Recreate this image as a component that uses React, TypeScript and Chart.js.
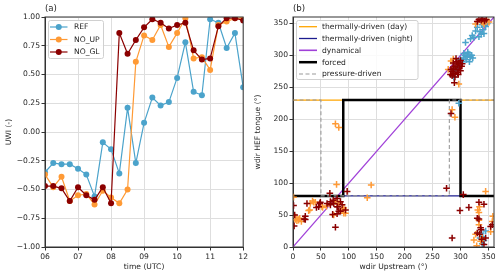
import React, { useEffect, useRef } from "react";
import { Chart, registerables } from "chart.js";

Chart.register(...registerables);

// ---------- Panel (a) data ----------
const TIMES = [6, 6.25, 6.5, 6.75, 7, 7.25, 7.5, 7.75, 8, 8.25, 8.5, 8.75, 9, 9.25, 9.5, 9.75, 10, 10.25, 10.5, 10.75, 11, 11.25, 11.5, 11.75, 12];
const TIME_TICKS = [6, 7, 8, 9, 10, 11, 12];
const TIME_TICK_LABELS = ["06", "07", "08", "09", "10", "11", "12"];
const UWI_TICKS = [-1, -0.75, -0.5, -0.25, 0, 0.25, 0.5, 0.75, 1];

const UWI_REF = [-0.35, -0.27, -0.28, -0.28, -0.32, -0.37, -0.56, -0.09, -0.15, -0.36, 0.21, -0.27, 0.08, 0.3, 0.23, 0.26, 0.47, 0.78, 0.35, 0.32, 0.98, 0.95, 0.73, 0.86, 0.39];
const UWI_NO_UP = [-0.37, -0.48, -0.39, -0.6, -0.55, -0.54, -0.63, -0.51, -0.57, -0.62, -0.5, 0.61, 0.84, 0.8, 0.93, 0.74, 0.86, 0.99, 0.64, 0.65, 0.54, 0.93, 0.96, 0.99, 0.99];
const UWI_NO_GL = [-0.47, -0.47, -0.49, -0.6, -0.48, -0.55, -0.59, -0.48, -0.62, 0.86, 0.68, 0.8, 0.91, 0.98, 0.95, 0.9, 0.93, 0.95, 0.71, 0.63, 0.64, 0.92, 0.99, 0.99, 0.97];

// ---------- Panel (b) data ----------
const WDIR_TICKS = [0, 50, 100, 150, 200, 250, 300, 350];

// [wdir upstream, wdir HEF tongue]
const SCAT_REF: [number, number][] = [
  [288, 266], [297, 225], [309, 320], [305, 296], [308, 300], [312, 298], [315, 302], [318, 297],
  [320, 300], [310, 293], [313, 305], [322, 296], [316, 290], [306, 303], [303, 290], [300, 288],
  [298, 284], [296, 280], [292, 276], [290, 272], [321, 331], [324, 328], [330, 344], [335, 337],
  [333, 329], [337, 333], [342, 334], [340, 340], [327, 338], [345, 345], [348, 350], [338, 348],
  [318, 326], [300, 294], [337, 22], [342, 10], [340, 16], [345, 25], [339, 5], [335, 14],
];
const SCAT_NO_UP: [number, number][] = [
  [327, 349], [339, 352], [342, 349], [351, 352], [347, 355], [283, 291], [287, 294], [278, 278],
  [297, 255], [285, 215], [290, 203], [76, 193], [82, 187], [78, 98], [140, 97], [133, 77],
  [1, 78], [31, 68], [40, 70], [35, 72], [52, 63], [76, 71], [82, 68], [91, 53], [91, 61],
  [28, 57], [4, 43], [5, 47], [7, 41], [12, 45], [15, 40], [37, 70], [30, 58], [53, 62],
  [73, 50], [88, 58], [94, 53], [10, 42], [60, 64], [345, 87], [334, 63], [333, 54], [333, 42],
  [333, 35], [327, 20], [339, 14], [336, 9], [354, 24], [357, 40], [358, 48], [324, 11],
  [331, 58], [329, 2],
];
const SCAT_NO_GL: [number, number][] = [
  [333, 356], [337, 355], [340, 357], [343, 354], [330, 353], [346, 356], [282, 270], [285, 275],
  [287, 280], [290, 283], [292, 278], [295, 285], [288, 272], [293, 290], [297, 288], [300, 292],
  [298, 280], [302, 283], [285, 268], [290, 266], [295, 273], [300, 276], [283, 278], [287, 288],
  [292, 295], [296, 270], [303, 287], [289, 257], [283, 209], [1, 65], [2, 33], [3, 50], [22, 48],
  [22, 43], [25, 68], [42, 62], [46, 63], [48, 68], [49, 70], [66, 84], [61, 68], [67, 66],
  [73, 68], [79, 63], [67, 71], [85, 71], [79, 76], [76, 31], [82, 56], [80, 63], [71, 51],
  [79, 52], [85, 56], [94, 58], [97, 87], [20, 44], [72, 73], [88, 66], [275, 92], [305, 82],
  [299, 57], [315, 62], [333, 70], [342, 67], [330, 45], [333, 44], [337, 27], [330, 22],
  [334, 20], [342, 4], [354, 32], [357, 35], [285, 14], [338, 12], [345, 14], [336, 30],
];

// Regime definition lines
const DAY_X = [0, 360];
const DAY_Y = [230, 230];
const NIGHT_X = [0, 360];
const NIGHT_Y = [80, 80];
const DYN_X = [0, 360];
const DYN_Y = [0, 360];
const FORCED_X = [0, 90, 90, 300, 300, 360];
const FORCED_Y = [80, 80, 230, 230, 80, 80];
const PRESS_X = [0, 50, 50, 280, 280, 360];
const PRESS_Y = [230, 230, 80, 80, 230, 230];

// ---------- styling ----------
const FONT = "DejaVu Sans";
const FS = 7.6;
const TXT = "#262626";
const GRID = "#dedede";
const AXIS = "#333333";
const C_REF = "#4ba3cb";
const C_NO_UP = "#ff9a35";
const C_NO_GL = "#8b0000";
const C_DAY = "#ffa500";
const C_NIGHT = "#1c1c8f";
const C_DYN = "#a040d8";
const C_FORCED = "#000000";
const C_PRESS = "#9a9a9a";

const minus = (s: string) => s.replace("-", "\u2212");

const zip = (xs: number[], ys: number[]) => xs.map((x, i) => ({ x, y: ys[i] }));

const framePlugin = {
  id: "frame",
  afterDatasetsDraw(chart: any) {
    const { ctx, chartArea: a } = chart;
    ctx.save();
    ctx.strokeStyle = AXIS;
    ctx.lineWidth = 1;
    ctx.strokeRect(a.left, a.top, a.right - a.left, a.bottom - a.top);
    ctx.restore();
  },
};

function panelLabel(text: string) {
  return {
    id: "panelLabel",
    afterDraw(chart: any) {
      const { ctx, chartArea: a } = chart;
      ctx.save();
      ctx.font = `8.6px "${FONT}"`;
      ctx.fillStyle = TXT;
      ctx.textAlign = "left";
      ctx.textBaseline = "middle";
      ctx.fillText(text, a.left, 9);
      ctx.restore();
    },
  };
}

type LegItem = { label: string; color: string; width: number; dash?: number[]; marker?: boolean };

function legendPlugin(box: { x: number; y: number; w: number; h: number }, rows: number[], lineX: [number, number], textX: number, items: LegItem[]) {
  return {
    id: "customLegend",
    afterDraw(chart: any) {
      const { ctx } = chart;
      ctx.save();
      const r = 2;
      ctx.beginPath();
      ctx.moveTo(box.x + r, box.y);
      ctx.lineTo(box.x + box.w - r, box.y);
      ctx.quadraticCurveTo(box.x + box.w, box.y, box.x + box.w, box.y + r);
      ctx.lineTo(box.x + box.w, box.y + box.h - r);
      ctx.quadraticCurveTo(box.x + box.w, box.y + box.h, box.x + box.w - r, box.y + box.h);
      ctx.lineTo(box.x + r, box.y + box.h);
      ctx.quadraticCurveTo(box.x, box.y + box.h, box.x, box.y + box.h - r);
      ctx.lineTo(box.x, box.y + r);
      ctx.quadraticCurveTo(box.x, box.y, box.x + r, box.y);
      ctx.closePath();
      ctx.fillStyle = "rgba(255,255,255,0.85)";
      ctx.fill();
      ctx.strokeStyle = "#d0d0d0";
      ctx.lineWidth = 1;
      ctx.stroke();
      items.forEach((it, i) => {
        const y = rows[i];
        ctx.beginPath();
        ctx.setLineDash(it.dash || []);
        ctx.strokeStyle = it.color;
        ctx.lineWidth = it.width;
        ctx.moveTo(lineX[0], y);
        ctx.lineTo(lineX[1], y);
        ctx.stroke();
        ctx.setLineDash([]);
        if (it.marker) {
          ctx.beginPath();
          ctx.fillStyle = it.color;
          ctx.arc((lineX[0] + lineX[1]) / 2, y, 3, 0, Math.PI * 2);
          ctx.fill();
        }
        ctx.font = `${FS}px "${FONT}"`;
        ctx.fillStyle = TXT;
        ctx.textAlign = "left";
        ctx.textBaseline = "middle";
        ctx.fillText(it.label, textX, y + 0.5);
      });
      ctx.restore();
    },
  };
}

const tickFont = { family: FONT, size: FS };

function axisCommon() {
  return {
    type: "linear" as const,
    grid: { color: GRID, lineWidth: 1, tickColor: AXIS, tickLength: 3.5, drawTicks: true },
    border: { color: AXIS, width: 1 },
  };
}

export default function App() {
  const leftRef = useRef<HTMLCanvasElement>(null);
  const rightRef = useRef<HTMLCanvasElement>(null);

  useEffect(() => {
    const lineDs = (label: string, ys: number[], color: string, order: number) => ({
      label,
      data: zip(TIMES, ys),
      borderColor: color,
      backgroundColor: color,
      borderWidth: 1.2,
      pointRadius: 3,
      pointBorderWidth: 0,
      pointBackgroundColor: color,
      showLine: true,
      tension: 0,
      clip: 0,
      order,
    });

    const left = new Chart(leftRef.current!, {
      type: "scatter",
      data: {
        datasets: [
          lineDs("REF", UWI_REF, C_REF, 3),
          lineDs("NO_UP", UWI_NO_UP, C_NO_UP, 2),
          lineDs("NO_GL", UWI_NO_GL, C_NO_GL, 1),
        ] as any,
      },
      options: {
        animation: false,
        responsive: false,
        maintainAspectRatio: false,
        layout: { padding: { top: 17, right: 5, left: 0, bottom: 0 } },
        plugins: { legend: { display: false }, tooltip: { enabled: false } },
        scales: {
          x: {
            ...axisCommon(),
            min: 6,
            max: 12,
            afterBuildTicks: (s: any) => {
              s.ticks = TIME_TICKS.map((v) => ({ value: v }));
            },
            afterFit: (s: any) => {
              s.height = 30;
            },
            ticks: {
              font: tickFont,
              color: TXT,
              padding: 2,
              maxRotation: 0,
              autoSkip: false,
              callback: (v: any) => {
                const i = TIME_TICKS.indexOf(Number(v));
                return i >= 0 ? TIME_TICK_LABELS[i] : "";
              },
            },
            title: { display: true, text: "time (UTC)", font: tickFont, color: TXT, padding: { top: 0, bottom: 5.5 } },
          },
          y: {
            ...axisCommon(),
            min: -1,
            max: 1,
            afterBuildTicks: (s: any) => {
              s.ticks = UWI_TICKS.map((v) => ({ value: v }));
            },
            afterFit: (s: any) => {
              s.width = 45;
            },
            ticks: {
              font: tickFont,
              color: TXT,
              padding: 1.5,
              autoSkip: false,
              callback: (v: any) => minus(Number(v).toFixed(2)),
            },
            title: { display: true, text: "UWI (-)", font: tickFont, color: TXT, padding: { top: 4, bottom: 0 } },
          },
        },
      } as any,
      plugins: [
        framePlugin,
        panelLabel("(a)"),
        legendPlugin({ x: 48.5, y: 20.5, w: 55, h: 38 }, [27, 39.5, 52], [50, 67.5], 74, [
          { label: "REF", color: C_REF, width: 1.2, marker: true },
          { label: "NO_UP", color: C_NO_UP, width: 1.2, marker: true },
          { label: "NO_GL", color: C_NO_GL, width: 1.2, marker: true },
        ]),
      ],
    });

    const regLine = (label: string, xs: number[], ys: number[], color: string, width: number, order: number, dash?: number[]) => ({
      label,
      data: zip(xs, ys),
      borderColor: color,
      backgroundColor: color,
      borderWidth: width,
      borderDash: dash || [],
      pointRadius: 0,
      showLine: true,
      tension: 0,
      clip: 0,
      order,
    });
    const scat = (label: string, pts: [number, number][], color: string, order: number) => ({
      label,
      data: pts.map(([x, y]) => ({ x, y })),
      borderColor: color,
      backgroundColor: color,
      pointStyle: "cross",
      pointRadius: 3.3,
      pointBorderWidth: 1.5,
      showLine: false,
      clip: 0,
      order,
    });

    const right = new Chart(rightRef.current!, {
      type: "scatter",
      data: {
        datasets: [
          regLine("thermally-driven (day)", DAY_X, DAY_Y, C_DAY, 1.2, 10),
          regLine("thermally-driven (night)", NIGHT_X, NIGHT_Y, C_NIGHT, 1.2, 9),
          regLine("dynamical", DYN_X, DYN_Y, C_DYN, 1.2, 8),
          regLine("forced", FORCED_X, FORCED_Y, C_FORCED, 2.5, 7),
          regLine("pressure-driven", PRESS_X, PRESS_Y, C_PRESS, 1.1, 6, [4, 2.5]),
          scat("REF", SCAT_REF, C_REF, 3),
          scat("NO_UP", SCAT_NO_UP, C_NO_UP, 2),
          scat("NO_GL", SCAT_NO_GL, C_NO_GL, 1),
        ] as any,
      },
      options: {
        animation: false,
        responsive: false,
        maintainAspectRatio: false,
        layout: { padding: { top: 17, right: 6, left: 0, bottom: 0 } },
        plugins: { legend: { display: false }, tooltip: { enabled: false } },
        scales: {
          x: {
            ...axisCommon(),
            min: 0,
            max: 360,
            afterBuildTicks: (s: any) => {
              s.ticks = WDIR_TICKS.map((v) => ({ value: v }));
            },
            afterFit: (s: any) => {
              s.height = 30;
            },
            ticks: { font: tickFont, color: TXT, padding: 2, maxRotation: 0, autoSkip: false, callback: (v: any) => String(v) },
            title: { display: true, text: "wdir Upstream (\u00b0)", font: tickFont, color: TXT, padding: { top: 0, bottom: 5.5 } },
          },
          y: {
            ...axisCommon(),
            min: 0,
            max: 360,
            afterBuildTicks: (s: any) => {
              s.ticks = WDIR_TICKS.map((v) => ({ value: v }));
            },
            afterFit: (s: any) => {
              s.width = 43;
            },
            ticks: { font: tickFont, color: TXT, padding: 1.5, autoSkip: false, callback: (v: any) => String(v) },
            title: { display: true, text: "wdir HEF tongue (\u00b0)", font: tickFont, color: TXT, padding: { top: 3.5, bottom: 0 } },
          },
        },
      } as any,
      plugins: [
        framePlugin,
        panelLabel("(b)"),
        legendPlugin({ x: 46.5, y: 20.5, w: 121.5, h: 59 }, [26.7, 38.5, 50.3, 62.2, 74], [49, 67], 72, [
          { label: "thermally-driven (day)", color: C_DAY, width: 1.3 },
          { label: "thermally-driven (night)", color: C_NIGHT, width: 1.3 },
          { label: "dynamical", color: C_DYN, width: 1.6 },
          { label: "forced", color: C_FORCED, width: 2.5 },
          { label: "pressure-driven", color: C_PRESS, width: 1.1, dash: [4, 2.5] },
        ]),
      ],
    });

    return () => {
      left.destroy();
      right.destroy();
    };
  }, []);

  return (
    <div style={{ position: "absolute", left: 0, top: 0, width: 500, height: 277, display: "flex", background: "#fff" }}>
      <canvas ref={leftRef} width={250} height={277} style={{ display: "block", width: 250, height: 277 }} />
      <canvas ref={rightRef} width={250} height={277} style={{ display: "block", width: 250, height: 277 }} />
    </div>
  );
}
